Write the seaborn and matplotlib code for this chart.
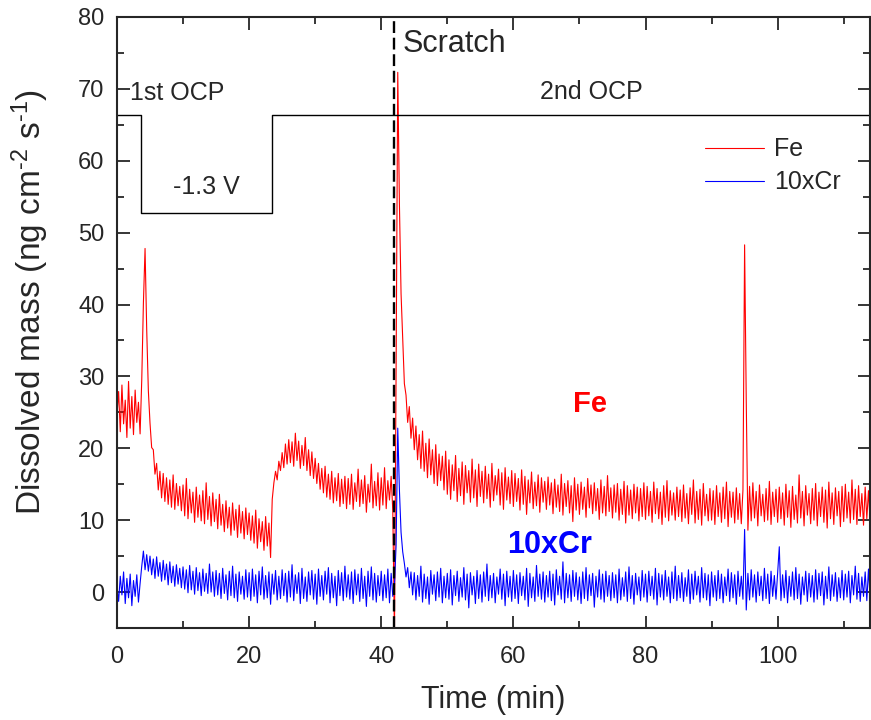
import numpy as np
import pandas as pd
import matplotlib
matplotlib.use("Agg")
import matplotlib.pyplot as plt
import seaborn as sns

sns.set_style("ticks")
plt.rcParams["font.family"] = ["Liberation Sans", "DejaVu Sans"]
plt.rcParams["mathtext.fontset"] = "custom"
plt.rcParams["mathtext.rm"] = "Liberation Sans"
plt.rcParams["mathtext.default"] = "regular"

# time grid (min), one reading every 0.25 min
time_min = np.arange(0, 114.01, 0.25)

# Fe dissolution rate (one row = 5 min)
fe = [
    24.6, 27.9, 22.3, 28.8, 23.4, 26.7, 21.5, 29.3, 22.8, 27.2, 21.9, 28.1, 23.6, 26.4, 22.0, 29.5, 40.2, 47.8, 36.5, 28.0,
    23.5, 20.1, 19.8, 16.4, 17.9, 14.2, 16.8, 13.1, 16.5, 12.6, 15.9, 12.2, 15.6, 11.8, 16.3, 11.5, 15.1, 12.0, 14.7, 11.3,
    14.9, 10.6, 15.8, 10.2, 14.3, 11.0, 13.9, 9.7, 14.6, 10.4, 13.5, 9.9, 14.1, 9.5, 15.2, 10.1, 13.3, 9.2, 13.8, 9.8,
    12.9, 8.8, 13.6, 9.3, 12.2, 8.4, 12.7, 8.9, 11.8, 7.9, 12.4, 8.6, 11.5, 7.6, 12.1, 8.2, 11.2, 7.4, 11.7, 8.0,
    11.0, 7.2, 10.6, 6.8, 11.4, 6.1, 10.2, 7.0, 9.8, 5.8, 10.5, 6.4, 9.6, 4.8, 12.9, 15.2, 16.8, 15.6, 18.2, 16.9,
    19.4, 17.3, 20.6, 17.8, 21.2, 18.0, 20.9, 17.5, 22.1, 18.3, 21.0, 17.2, 20.4, 17.6, 21.5, 16.9, 19.8, 16.2, 19.5, 15.8,
    18.6, 15.1, 17.9, 14.3, 17.2, 13.8, 17.5, 13.2, 16.4, 12.9, 16.8, 12.4, 15.9, 12.7, 16.5, 11.9, 15.7, 12.3, 16.1, 11.6,
    15.8, 12.2, 16.4, 11.5, 15.2, 12.6, 17.1, 11.9, 15.6, 12.3, 16.2, 11.1, 15.0, 12.5, 17.8, 11.7, 15.4, 12.0, 16.6, 11.4,
    15.9, 12.1, 17.3, 11.6, 15.5, 12.8, 16.1, 11.3, -6.0, 31.0, 72.3, 54.0, 41.5, 35.2, 29.0, 27.4, 23.6, 25.8, 21.4, 24.2,
    19.8, 23.1, 18.4, 21.9, 17.2, 22.4, 16.8, 20.7, 15.9, 21.3, 16.3, 19.8, 15.1, 20.5, 14.8, 19.2, 15.5, 18.9, 14.2, 19.6,
    13.6, 18.4, 12.9, 17.7, 14.1, 19.0, 12.6, 17.2, 13.4, 18.1, 12.2, 17.6, 13.8, 16.9, 12.5, 18.5, 13.1, 17.0, 11.9, 17.8,
    13.3, 16.8, 12.4, 17.5, 13.0, 16.4, 11.8, 17.9, 12.7, 16.2, 13.5, 17.1, 12.1, 16.6, 11.5, 17.3, 12.8, 16.0, 12.3, 16.9,
    11.9, 16.5, 12.6, 15.8, 11.4, 17.0, 12.2, 16.1, 10.8, 15.6, 12.4, 16.7, 11.6, 15.3, 12.0, 16.3, 11.1, 15.9, 12.5, 15.4,
    11.5, 16.0, 12.1, 15.2, 10.9, 15.7, 11.8, 14.9, 11.2, 16.4, 10.7, 15.1, 11.9, 15.5, 11.0, 14.8, 9.8, 15.9, 11.4, 15.0,
    10.8, 15.3, 11.5, 14.6, 10.4, 15.8, 11.7, 14.9, 10.9, 15.2, 11.3, 14.4, 10.1, 15.6, 11.0, 14.7, 10.6, 16.2, 11.2, 14.5,
    10.3, 14.9, 11.1, 15.1, 10.0, 14.3, 10.8, 15.4, 9.6, 14.8, 10.7, 14.2, 10.2, 15.0, 11.0, 14.6, 9.9, 14.4, 10.5, 15.2,
    10.1, 14.7, 10.6, 14.0, 9.7, 15.3, 10.9, 14.4, 10.2, 13.9, 9.4, 14.8, 10.4, 15.5, 9.9, 14.1, 10.7, 13.8, 10.0, 14.6,
    10.5, 14.2, 9.8, 14.9, 10.3, 13.7, 9.5, 14.5, 10.8, 15.6, 9.6, 14.0, 10.1, 14.3, 9.3, 15.1, 10.6, 13.6, 9.9, 14.4,
    10.0, 14.1, 9.4, 14.8, 10.5, 13.8, 9.7, 14.6, 10.2, 15.3, 9.1, 14.0, 10.4, 13.9, 9.6, 14.5, 10.1, 13.7, 9.5, 14.2,
    48.3, 26.5, 8.6, 14.7, 9.9, 15.2, 10.3, 14.0, 9.2, 14.9, 10.6, 13.6, 9.8, 14.4, 10.0, 15.4, 9.4, 13.9, 10.5, 14.3,
    9.7, 14.6, 10.2, 13.8, 9.3, 15.0, 10.4, 14.1, 9.0, 14.7, 10.1, 13.5, 9.6, 16.3, 10.3, 14.0, 9.2, 14.8, 10.7, 13.7,
    9.5, 14.4, 10.0, 15.1, 9.2, 13.9, 10.5, 14.6, 9.7, 14.2, 8.9, 15.3, 10.2, 13.8, 9.4, 14.5, 10.6, 14.0, 9.1, 14.7,
    9.8, 15.0, 10.3, 13.9, 9.6, 15.6, 10.1, 14.3, 9.4, 14.8, 10.5, 13.7, 9.3, 14.6, 10.2, 14.1, 9.7,
]

# Cr dissolution rate, multiplied by 10
cr10 = [
    0.9, -1.3, 2.2, -0.4, 2.8, -1.6, 1.9, -0.8, 2.5, -1.9, 1.6, -0.6, 2.4, -1.4, 1.2, 3.6, 5.7, 3.1, 5.2, 2.9,
    5.0, 2.4, 4.6, 1.9, 4.9, 2.2, 4.1, 1.5, 4.4, 1.7, 3.9, 1.0, 4.2, 1.3, 3.6, 0.8, 3.8, 1.1, 3.3, 0.6,
    3.5, 0.4, 3.1, -0.1, 3.7, 0.3, 2.9, -0.3, 3.4, 0.2, 2.7, -0.5, 3.2, 0.1, 2.6, -0.2, 3.9, 0.0, 2.8, -0.6,
    3.0, -0.4, 2.6, -0.9, 3.3, -0.2, 2.4, -1.1, 2.9, -0.5, 3.6, -0.8, 2.5, -1.3, 2.8, -0.3, 2.2, -1.0, 3.1, -0.7,
    2.7, -1.2, 3.2, -0.6, 2.4, -1.5, 2.9, -0.4, 3.5, -1.0, 2.3, -0.8, 2.8, -1.7, 2.5, -0.3, 3.0, -1.1, 2.2, -0.9,
    3.1, -0.5, 2.6, -1.4, 2.9, -0.7, 3.8, -1.2, 2.4, -0.2, 2.7, -1.6, 3.3, -0.9, 2.1, -1.3, 2.8, -0.4, 3.0, -1.0,
    2.5, -1.7, 3.2, -0.6, 2.3, -1.1, 2.9, -0.3, 3.4, -1.5, 2.6, -0.8, 2.2, -1.9, 3.0, -0.5, 2.7, -1.2, 3.6, -0.7,
    2.4, -1.0, 2.8, -1.6, 3.1, -0.4, 2.5, -1.3, 3.3, -0.9, 2.2, -2.0, 2.9, -0.6, 3.5, -1.1, 2.6, -1.4, 2.3, -0.5,
    2.9, -1.2, 2.4, -0.8, 3.2, -1.5, 2.6, -0.6, 1.0, 6.5, 22.8, 14.2, 8.3, 5.6, 4.0, 2.1, 3.4, 0.6, 2.8, -0.4,
    2.7, -1.1, 2.3, -0.6, 3.6, -1.4, 2.5, -0.9, 2.1, -1.7, 3.0, -0.3, 2.4, -1.2, 2.8, -0.7, 3.3, -1.5, 2.2, -0.8,
    2.6, -1.0, 3.1, -1.8, 2.3, -0.5, 2.9, -1.3, 2.0, -0.7, 3.4, -1.1, 2.5, -2.2, 2.7, -0.4, 2.2, -1.6, 3.0, -0.9,
    2.4, -1.4, 2.8, -0.6, 3.9, -1.2, 2.3, -0.8, 2.6, -1.5, 2.1, -0.3, 3.2, -1.0, 2.5, -1.9, 2.9, -0.7, 2.2, -1.3,
    3.0, -0.9, 2.4, -1.6, 2.7, -0.5, 2.2, -1.1, 3.3, -2.0, 2.6, -0.8, 2.1, -1.3, 3.7, -0.6, 2.5, -1.0, 2.8, -1.4,
    2.3, -0.7, 2.9, -1.2, 2.5, -1.8, 3.1, -0.4, 2.2, -1.0, 4.2, -1.5, 2.6, -0.8, 2.4, -1.3, 3.0, -0.6, 2.7, -1.1,
    2.1, -1.6, 2.8, -0.9, 3.4, -1.2, 2.4, -0.5, 2.6, -2.1, 2.2, -0.7, 3.1, -1.0, 2.5, -1.4, 2.9, -0.6, 2.3, -1.2,
    2.7, -0.8, 2.4, -1.5, 3.2, -1.1, 2.0, -0.6, 2.8, -1.3, 3.5, -0.9, 2.3, -1.7, 2.6, -0.4, 2.1, -1.2, 3.0, -0.7,
    2.5, -1.4, 2.9, -0.5, 2.2, -1.0, 3.3, -1.8, 2.6, -0.7, 2.4, -1.1, 3.0, -0.6, 2.1, -1.5, 2.8, -0.9, 3.6, -1.2,
    2.3, -0.8, 2.7, -1.3, 2.0, -0.6, 3.1, -1.6, 2.5, -1.0, 2.9, -0.4, 2.2, -1.4, 3.4, -0.8, 2.6, -1.1, 2.4, -1.9,
    2.8, -0.7, 2.3, -1.2, 3.0, -0.9, 2.5, -1.5, 2.1, -0.5, 3.2, -1.3, 2.7, -0.8, 2.4, -1.7, 2.9, -0.6, 2.2, -1.0,
    8.7, -2.5, 2.6, -1.1, 3.1, -0.7, 2.4, -1.4, 2.8, -0.5, 2.2, -1.2, 3.3, -0.9, 2.5, -1.6, 2.9, -0.6, 2.3, -1.0,
    2.7, 6.3, -1.2, 2.4, -0.8, 3.0, -1.5, 2.2, -0.6, 2.8, -1.1, 3.4, -0.9, 2.5, -1.7, 2.1, -0.4, 2.9, -1.3, 2.6,
    -0.7, 2.3, -1.4, 3.1, -1.0, 2.6, -0.5, 2.8, -1.8, 2.2, -0.9, 3.5, -1.2, 2.4, -0.6, 2.7, -1.3, 2.0, -0.8, 3.0,
    -1.1, 2.5, -0.7, 2.9, -1.5, 2.3, -0.4, 3.6, -1.0, 2.6, -1.3, 2.1, -0.6, 2.8, -1.2, 3.2, -0.9,
]

# applied potential profile (schematic, drawn in plot units)
step_t = [0, 3.6, 3.6, 23.5, 23.5, 114]
step_y = [66.3, 66.3, 52.7, 52.7, 66.3, 66.3]

scratch_t = 42.0

df = pd.DataFrame({"time": time_min, "Fe": fe, "10xCr": cr10})

fig = plt.figure(figsize=(8.71, 7.2), dpi=100)
ax = fig.add_axes([0.1343, 0.1278, 0.8647, 0.8486])

sns.lineplot(data=df, x="time", y="Fe", color="#ff0000", lw=0.8,
             label="Fe", ax=ax)
sns.lineplot(data=df, x="time", y="10xCr", color="#0000ff", lw=0.8,
             label="10xCr", ax=ax)
ax.plot(step_t, step_y, color="black", lw=1.0)
ax.axvline(scratch_t, color="black", ls=(0, (5, 2)), lw=1.7)

ax.set_xlim(0, 114)
ax.set_ylim(-5, 80)
ax.set_xticks(np.arange(0, 101, 20))
ax.set_xticks(np.arange(10, 114, 20), minor=True)
ax.set_yticks(np.arange(0, 81, 10))
ax.set_yticks(np.arange(-5, 80, 10), minor=True)
ax.tick_params(which="both", direction="in", top=True, right=True,
               width=1.3, labelsize=17)
ax.tick_params(which="major", length=9)
ax.tick_params(which="minor", length=5)
ax.tick_params(axis="x", pad=13)
ax.tick_params(axis="y", pad=9)
for s in ax.spines.values():
    s.set_linewidth(1.5)

ax.set_xlabel("Time (min)", fontsize=22)
ax.set_ylabel(r"Dissolved mass (ng cm$^{\text{-2}}$ s$^{\text{-1}}$)", fontsize=24)
ax.xaxis.set_label_coords(0.5, -0.093)
ax.yaxis.set_label_coords(-0.088, 0.534)

ax.text(2.0, 69.4, "1st OCP", fontsize=18, ha="left", va="center")
ax.text(13.5, 56.3, "-1.3 V", fontsize=18, ha="center", va="center")
ax.text(43.3, 76.3, "Scratch", fontsize=22, ha="left", va="center")
ax.text(71.8, 69.5, "2nd OCP", fontsize=18, ha="center", va="center")
ax.text(71.6, 26.1, "Fe", fontsize=21, fontweight="bold", color="#ff0000",
        ha="center", va="center")
ax.text(65.5, 6.6, "10xCr", fontsize=22, fontweight="bold", color="#0000ff",
        ha="center", va="center")

ax.legend(loc="upper left", bbox_to_anchor=(0.751, 0.84), frameon=False,
          fontsize=18, handlelength=2.35, handletextpad=0.4, labelspacing=0.36)

fig.savefig("out.png", dpi=100)
